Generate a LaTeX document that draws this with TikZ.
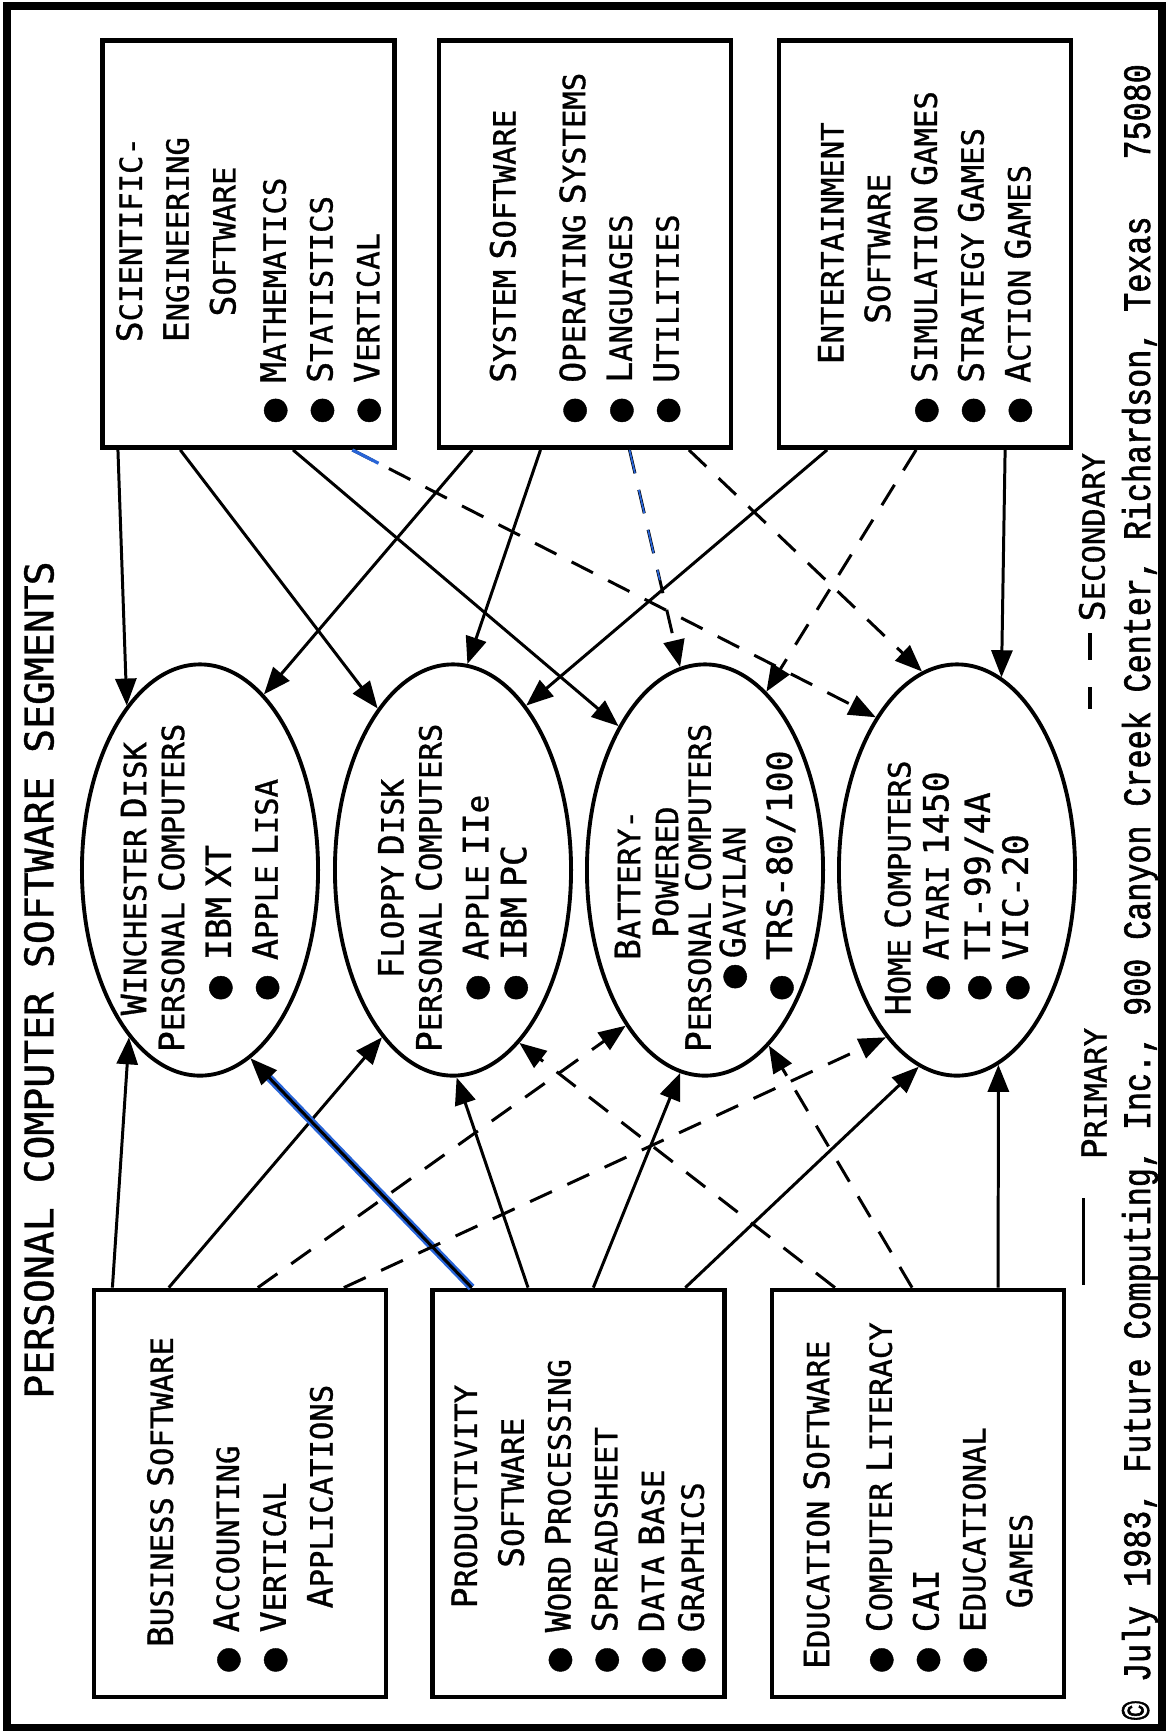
\documentclass[tikz,border=0pt]{standalone}
\usepackage{fontspec}
\setmainfont{DejaVu Sans Mono}[FakeBold=1]
\newfontfamily\footfont{Liberation Mono}[FakeStretch=0.82,FakeBold=1.5]
\usepackage{tikz}
\usetikzlibrary{arrows.meta,calc,shapes.geometric}

\definecolor{penblue}{RGB}{40,100,215}
% typewriter small caps: bigger first letters
\newcommand\ci[1]{{\fontsize{9.9}{12}\selectfont #1}}
% skip n character cells
\newcommand\skc[1]{\hspace*{\dimexpr #1em*602/1000\relax}}
\newcommand\bul{\makebox[0.602em][c]{\fontsize{11}{12}\selectfont ●}}

\tikzset{
  swbox/.style={draw, line width=1.3pt, rotate=90, minimum width=4.07cm,
    minimum height=2.92cm, inner sep=0pt, text width=3.51cm, align=left,
    font=\fontsize{8.7}{13.3}\selectfont},
  pcell/.style={ellipse, draw, line width=1.1pt, rotate=90,
    minimum width=4.11cm, minimum height=2.36cm, inner sep=0pt},
  pctext/.style={rotate=90, inner sep=0pt, text width=3.64cm, align=left,
    font=\fontsize{8.7}{10.8}\selectfont},
  keylbl/.style={rotate=90, anchor=west, inner sep=0pt,
    font=\fontsize{8.7}{10}\selectfont},
  prim/.style={line width=0.85pt, -{Triangle[length=0.27cm,width=0.21cm]}},
  sec/.style={prim, dash pattern=on 0.24cm off 0.17cm},
}

\begin{document}
\begin{tikzpicture}[x=0.01cm, y=-0.01cm]
  \useasboundingbox (0,0) rectangle (1167,1732);
  % frame and title
  \draw[line width=2pt] (7,6) rectangle (1162,1727);
  \node[rotate=90, font=\fontsize{11.3}{13}\selectfont] (title) at (39,980)
    {PERSONAL COMPUTER SOFTWARE SEGMENTS};

  % software segments, upper row
  \node[swbox] (sci) at (248.5,244) {\skc{4.2}\ci{S}CIENTIFIC-\\
    \skc{4.2}\ci{E}NGINEERING\\
    \skc{5.6}\ci{S}OFTWARE\\[1pt]
    \bul\skc{1}\ci{M}ATHEMATICS\\
    \bul\skc{1}\ci{S}TATISTICS\\
    \bul\skc{1}\ci{V}ERTICAL};
  \node[swbox] (sys) at (585,244) {\skc{2}\ci{S}YSTEM~\ci{S}OFTWARE\\[6.5pt]
    \bul\skc{1}\ci{O}PERATING~\ci{S}YSTEMS\\
    \bul\skc{1}\ci{L}ANGUAGES\\
    \bul\skc{1}\ci{U}TILITIES};
  \node[swbox] (ent) at (925,244) {\skc{3}\ci{E}NTERTAINMENT\\
    \skc{5.2}\ci{S}OFTWARE\\
    \bul\skc{1}\ci{S}IMULATION~\ci{G}AMES\\
    \bul\skc{1}\ci{S}TRATEGY~\ci{G}AMES\\
    \bul\skc{1}\ci{A}CTION~\ci{G}AMES};

  % software segments, lower row
  \node[swbox] (bus) at (240,1493.5) {\skc{1.2}\ci{B}USINESS~\ci{S}OFTWARE\\[5.5pt]
    \bul\skc{1}\ci{A}CCOUNTING\\
    \bul\skc{1}\ci{V}ERTICAL\\
    \skc{3.3}\ci{A}PPLICATIONS};
  \node[swbox] (prod) at (578.5,1493.5) {\skc{3.3}\ci{P}RODUCTIVITY\\
    \skc{5.5}\ci{S}OFTWARE\\
    \bul\skc{1}\ci{W}ORD~\ci{P}ROCESSING\\
    \bul\skc{1}\ci{S}PREADSHEET\\
    \bul\skc{1}\ci{D}ATA~\ci{B}ASE\\[-2pt]
    \bul\skc{1}\ci{G}RAPHICS};
  \node[swbox] (edu) at (918,1493.5) {\ci{E}DUCATION~\ci{S}OFTWARE\\[4.5pt]
    \bul\skc{1}\ci{C}OMPUTER~\ci{L}ITERACY\\
    \bul\skc{1}\ci{CAI}\\
    \bul\skc{1}\ci{E}DUCATIONAL\\
    \skc{3.3}\ci{G}AMES};

  % computer classes
  \node[pcell] (win) at (200,870) {};
  \node[pcell] (flop) at (453,870) {};
  \node[pcell] (batt) at (705,870) {};
  \node[pcell] (home) at (957,870) {};
  \node[pctext] (wintx) at (win) {\skc{2}\ci{W}INCHESTER~\ci{D}ISK\\
    \ci{P}ERSONAL~\ci{C}OMPUTERS\\[2.5pt]
    \skc{3}\bul\skc{1}\ci{IBM XT}\\[2.5pt]
    \skc{3}\bul\skc{1}\ci{A}PPLE~\ci{L}ISA};
  \node[pctext] (floptx) at (flop) {\skc{4}\ci{F}LOPPY~\ci{D}ISK\\
    \ci{P}ERSONAL~\ci{C}OMPUTERS\\[2.5pt]
    \skc{3}\bul\skc{1}\ci{A}PPLE~\ci{II}e\\
    \skc{3}\bul\skc{1}\ci{IBM PC}};
  \node[pctext] (batttx) at (batt) {\skc{5}\ci{B}ATTERY-\\
    \skc{6.2}\ci{P}OWERED\\[-1.5pt]
    \ci{P}ERSONAL~\ci{C}OMPUTERS\\[-1pt]
    \skc{3.6}\bul\skc{0.5}\ci{G}AVILAN\\[2.5pt]
    \skc{3}\bul\skc{1}\ci{TRS-80/100}};
  \node[pctext] (hometx) at (home) {\skc{2}\ci{H}OME~\ci{C}OMPUTERS\\
    \skc{3}\bul\skc{1}\ci{A}TARI~\ci{1450}\\[1pt]
    \skc{3}\bul\skc{1}\ci{TI-99/4A}\\
    \skc{3}\bul\skc{1}\ci{VIC-20}};

  % primary links
  \foreach \s/\p/\d/\a in {sci/0.06/win/24, sci/0.27/flop/25, sci/0.65/batt/31,
      sys/0.12/win/-20, sys/0.35/flop/-4, ent/0.17/flop/-24, ent/0.77/home/-13}
    \draw[prim] ($(\s.north west)!\p!(\s.south west)$) -- (\d.\a);
  \foreach \s/\p/\d/\a in {bus/0.07/win/157, bus/0.26/flop/157, prod/0.33/flop/181,
      prod/0.55/batt/173, prod/0.86/home/169, edu/0.77/home/192}
    \draw[prim] ($(\s.north east)!\p!(\s.south east)$) -- (\d.\a);
  % the inked one
  \coordinate (p2w) at ($(prod.north east)!0.14!(prod.south east)$);
  \draw[line width=2.2pt, penblue, shorten >=0.2cm] (p2w) -- (win.195);
  \draw[prim] (p2w) -- (win.195);

  % secondary links
  \foreach \s/\p/\d/\a in {sci/0.85/home/28, sys/0.65/batt/7, sys/0.85/home/10,
      ent/0.47/batt/-19}
    \draw[sec] ($(\s.north west)!\p!(\s.south west)$) -- (\d.\a);
  \foreach \s/\p/\d/\a in {bus/0.56/batt/153, bus/0.85/home/157, edu/0.22/flop/201,
      edu/0.48/batt/200}
    \draw[sec] ($(\s.north east)!\p!(\s.south east)$) -- (\d.\a);
  \coordinate (s2b) at ($(sys.north west)!0.65!(sys.south west)$);
  \draw[penblue, line width=0.5pt, dash pattern=on 0.24cm off 0.17cm]
    (s2b) -- ($(s2b)!0.6!(batt.7)$);
  \coordinate (s2h) at ($(sci.north west)!0.85!(sci.south west)$);
  \draw[penblue, line width=0.9pt] (s2h) -- ($(s2h)!0.05!(home.28)$);

  % key
  \node[keylbl] (prilbl) at (1094,1160) {\ci{P}RIMARY};
  \node[keylbl] (seclbl) at (1092,622) {\ci{S}ECONDARY};
  \draw[line width=0.85pt] ($(prilbl.west)+(-11,38)$) -- ++(0,87);
  \draw[line width=1.3pt] ($(seclbl.west)+(-2,11)$) -- ++(0,27)
    ($(seclbl.west)+(-2,65)$) -- ++(0,22);

  % source line
  \node[rotate=90, font=\footfont\fontsize{11}{13}\selectfont] (src) at (1140,892)
    {© July 1983, Future Computing, Inc., 900 Canyon Creek Center, Richardson, Texas\ \ \ 75080};
\end{tikzpicture}
\end{document}
